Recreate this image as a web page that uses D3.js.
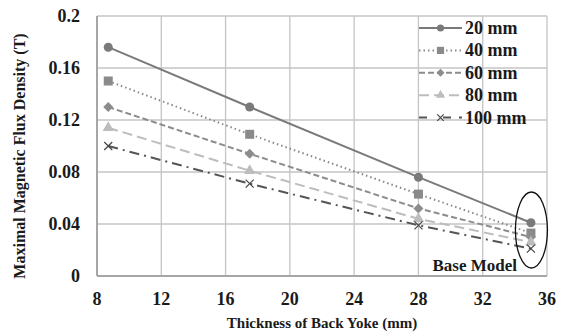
<!DOCTYPE html>
<html>
<head>
<meta charset="utf-8">
<script src="https://cdn.jsdelivr.net/npm/d3@7"></script>
<style>
  body { margin: 0; background: #fff; }
  svg text { font-family: "Liberation Serif", "Times New Roman", serif; font-weight: bold; fill: #1a1a1a; }
</style>
</head>
<body>
<script>
(function(){

//chart data
var thickness = [8.7, 17.5, 28, 35];
var seriesNames = ["20 mm", "40 mm", "60 mm", "80 mm", "100 mm"];
var flux20 = [0.176, 0.130, 0.076, 0.041];
var flux40 = [0.150, 0.109, 0.063, 0.033];
var flux60 = [0.130, 0.094, 0.052, 0.030];
var flux80 = [0.114, 0.081, 0.044, 0.026];
var flux100 = [0.100, 0.071, 0.039, 0.021];
var xTicks = [8, 12, 16, 20, 24, 28, 32, 36];
var yTicks = [0, 0.04, 0.08, 0.12, 0.16, 0.2];

//styles per series
var styles = [
    {color: "#7a7a7a", dash: null, marker: "circle"},
    {color: "#8a8a8a", dash: "1.5,3", marker: "square"},
    {color: "#8c8c8c", dash: "6,3", marker: "diamond"},
    {color: "#bdbdbd", dash: "10,5", marker: "triangle"},
    {color: "#555555", dash: "10,5,2,5", marker: "cross"}
];
var allSeries = [flux20, flux40, flux60, flux80, flux100];

var width = 564, height = 333;
var margin = {left: 97, right: 17, top: 16, bottom: 57};

var svg = d3.select("body")
    .append("svg")
    .attr("width", width)
    .attr("height", height);

var x = d3.scaleLinear().domain([8, 36]).range([margin.left, width - margin.right]);
var y = d3.scaleLinear().domain([0, 0.2]).range([height - margin.bottom, margin.top]);

//gridlines
svg.selectAll(".vgrid")
    .data(xTicks)
    .enter()
    .append("line")
    .attr("x1", function(d){ return x(d); })
    .attr("x2", function(d){ return x(d); })
    .attr("y1", y(0))
    .attr("y2", y(0.2))
    .attr("stroke", "#c4c4c4")
    .attr("stroke-width", 1.3);

svg.selectAll(".hgrid")
    .data(yTicks)
    .enter()
    .append("line")
    .attr("x1", x(8))
    .attr("x2", x(36))
    .attr("y1", function(d){ return y(d); })
    .attr("y2", function(d){ return y(d); })
    .attr("stroke", "#c4c4c4")
    .attr("stroke-width", 1.3);

//axes lines
svg.append("line")
    .attr("x1", x(8)).attr("x2", x(36))
    .attr("y1", y(0)).attr("y2", y(0))
    .attr("stroke", "#a6a6a6").attr("stroke-width", 2);
svg.append("line")
    .attr("x1", x(8)).attr("x2", x(8))
    .attr("y1", y(0)).attr("y2", y(0.2))
    .attr("stroke", "#a6a6a6").attr("stroke-width", 2);

//tick labels
svg.selectAll(".xlab")
    .data(xTicks)
    .enter()
    .append("text")
    .attr("x", function(d){ return x(d); })
    .attr("y", y(0) + 29)
    .attr("text-anchor", "middle")
    .style("font-size", "18px")
    .text(function(d){ return d; });

svg.selectAll(".ylab")
    .data(yTicks)
    .enter()
    .append("text")
    .attr("x", x(8) - 17)
    .attr("y", function(d){ return y(d) + 6; })
    .attr("text-anchor", "end")
    .style("font-size", "18px")
    .text(function(d){ return d === 0 ? "0" : String(+d.toFixed(2)); });

//axis titles
svg.append("text")
    .attr("x", 322)
    .attr("y", 328)
    .attr("text-anchor", "middle")
    .style("font-size", "15px")
    .text("Thickness of Back Yoke (mm)");

svg.append("text")
    .attr("transform", "translate(25," + 156 + ") rotate(-90)")
    .attr("text-anchor", "middle")
    .style("font-size", "16px")
    .text("Maximal Magnetic Flux Density (T)");

var line = d3.line()
    .x(function(d, i){ return x(thickness[i]); })
    .y(function(d){ return y(d); });

//draw a marker of a given type
function drawMarker(g, type, cx, cy, color, k){
    var r;
    if (type == "circle"){
        g.append("circle").attr("cx", cx).attr("cy", cy).attr("r", 4.5 * k).attr("fill", color);
    } else if (type == "square"){
        g.append("rect").attr("x", cx - 4.5 * k).attr("y", cy - 4.5 * k).attr("width", 9 * k).attr("height", 9 * k).attr("fill", color);
    } else if (type == "diamond"){
        r = 5 * k;
        g.append("path").attr("d", "M0," + -r + "L" + r + ",0L0," + r + "L" + -r + ",0Z").attr("transform", "translate(" + cx + "," + cy + ")").attr("fill", color);
    } else if (type == "triangle"){
        g.append("path").attr("d", d3.symbol().type(d3.symbolTriangle).size(55 * k * k)()).attr("transform", "translate(" + cx + "," + cy + ")").attr("fill", color);
    } else {
        r = 4 * k;
        g.append("path").attr("d", "M" + -r + "," + -r + "L" + r + "," + r + "M" + -r + "," + r + "L" + r + "," + -r).attr("transform", "translate(" + cx + "," + cy + ")").attr("stroke", color).attr("stroke-width", 1.2).attr("fill", "none");
    }
}

//series lines and markers
allSeries.forEach(function(vals, s){
    var st = styles[s];
    var g = svg.append("g");
    g.append("path")
        .datum(vals)
        .attr("d", line)
        .attr("fill", "none")
        .attr("stroke", st.color)
        .attr("stroke-width", 2)
        .attr("stroke-dasharray", st.dash);
    vals.forEach(function(v, i){
        drawMarker(g, st.marker, x(thickness[i]), y(v), s == 4 ? "#444" : st.color, 1);
    });
});

//legend
var legend = svg.append("g");
seriesNames.forEach(function(name, s){
    var st = styles[s];
    var ly = 28 + s * 22.4;
    legend.append("line")
        .attr("x1", 419).attr("x2", 462)
        .attr("y1", ly).attr("y2", ly)
        .attr("stroke", st.color)
        .attr("stroke-width", 2)
        .attr("stroke-dasharray", s == 4 ? "8,16,8" : st.dash);
    drawMarker(legend, st.marker, 440.5, ly, s == 4 ? "#444" : st.color, 0.8);
    legend.append("text")
        .attr("x", 465)
        .attr("y", ly + 6)
        .style("font-size", "18px")
        .text(name);
});

//base model annotation
svg.append("ellipse")
    .attr("cx", x(35) + 0.5)
    .attr("cy", 230)
    .attr("rx", 16)
    .attr("ry", 38)
    .attr("fill", "none")
    .attr("stroke", "#111")
    .attr("stroke-width", 1.3);

svg.append("text")
    .attr("x", 517)
    .attr("y", 271)
    .attr("text-anchor", "end")
    .style("font-size", "17px")
    .text("Base Model");

})();
</script>
</body>
</html>
